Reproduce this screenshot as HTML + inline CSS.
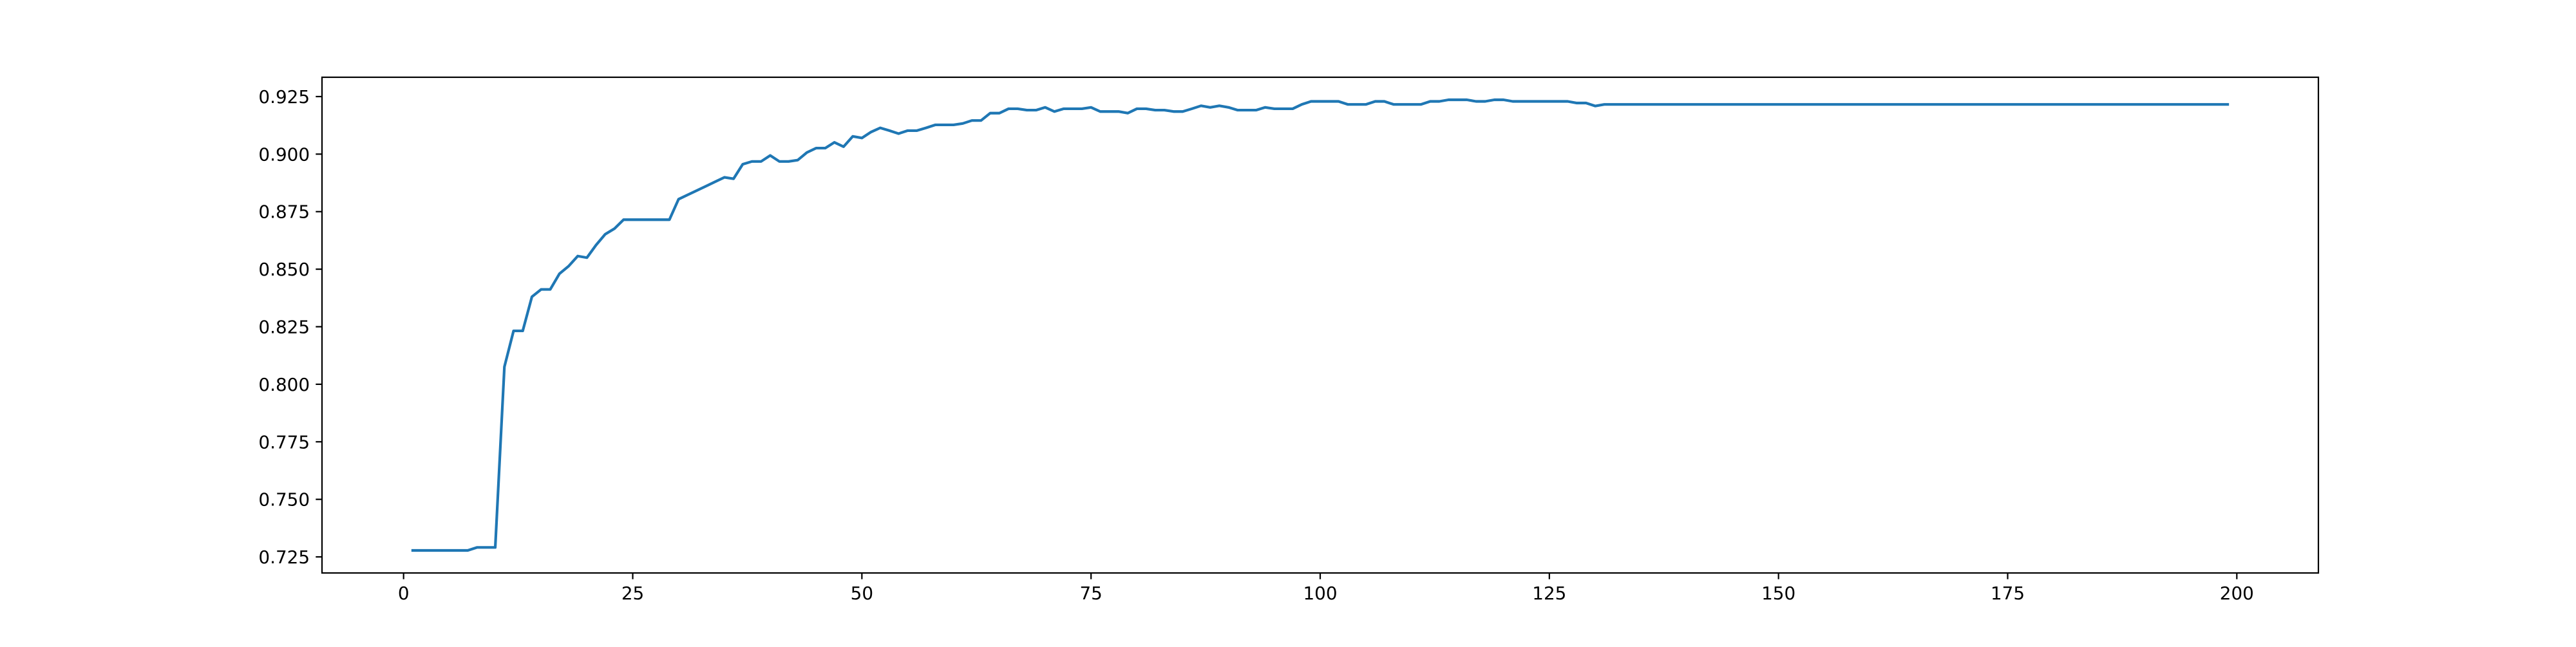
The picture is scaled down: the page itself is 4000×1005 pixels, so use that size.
<!DOCTYPE html>
<html><head><meta charset="utf-8"><style>
html,body{margin:0;padding:0;background:#fff;}
svg text{font-family:"DejaVu Sans","Liberation Sans",sans-serif;font-size:27.8px;fill:#000;}
</style></head><body>
<svg id="chart" width="4000" height="1000" viewBox="0 0 4000 1000" xmlns="http://www.w3.org/2000/svg">
<rect width="4000" height="1000" fill="#fff"/>
<g id="plot"></g>
</svg>
<script>
const xValues = [];
for (let i = 1; i <= 199; i++) xValues.push(i);
const seriesHead = [0.7278,0.7278,0.7278,0.7278,0.7278,0.7278,0.7278,0.7291,0.7291,0.7291,
0.8076,0.8232,0.8232,0.838,0.8412,0.8412,0.848,0.8513,0.8557,0.855,
0.8605,0.8652,0.8676,0.8715,0.8715,0.8715,0.8715,0.8715,0.8715,0.8804,
0.8823,0.8842,0.8861,0.888,0.8899,0.8893,0.8956,0.8968,0.8968,0.8994,
0.8968,0.8968,0.8974,0.9007,0.9026,0.9026,0.9051,0.9032,0.9077,0.907,
0.9096,0.9114,0.9102,0.9089,0.9102,0.9102,0.9114,0.9127,0.9127,0.9127,
0.9133,0.9146,0.9146,0.9178,0.9178,0.9197,0.9197,0.9191,0.9191,0.9203,
0.9185,0.9197,0.9197,0.9197,0.9203,0.9185,0.9185,0.9185,0.9178,0.9197,
0.9197,0.9191,0.9191,0.9185,0.9185,0.9197,0.921,0.9203,0.921,0.9203,
0.9191,0.9191,0.9191,0.9203,0.9197,0.9197,0.9197,0.9216,0.9229,0.9229,
0.9229,0.9229,0.9216,0.9216,0.9216,0.9229,0.9229,0.9216,0.9216,0.9216,
0.9216,0.9229,0.9229,0.9236,0.9236,0.9236,0.9229,0.9229,0.9236,0.9236,
0.9229,0.9229,0.9229,0.9229,0.9229,0.9229,0.9229,0.9222,0.9222,0.9209];
const seriesTailValue = 0.9216;
const seriesValues = xValues.map((x, i) => i < seriesHead.length ? seriesHead[i] : seriesTailValue);
const xTicks = [0, 25, 50, 75, 100, 125, 150, 175, 200];
const yTicks = [0.725, 0.75, 0.775, 0.8, 0.825, 0.85, 0.875, 0.9, 0.925];
const yTickLabels = ["0.725","0.750","0.775","0.800","0.825","0.850","0.875","0.900","0.925"];

const L = 500, R = 3600, T = 120, B = 890;
const xmin = Math.min(...xValues), xmax = Math.max(...xValues);
const xpad = (xmax - xmin) * 0.05;
const ymin0 = Math.min(...seriesValues), ymax0 = Math.max(...seriesValues);
const ypad = (ymax0 - ymin0) * 0.05;
const x0 = xmin - xpad, x1 = xmax + xpad, y0 = ymin0 - ypad, y1 = ymax0 + ypad;
function sx(v){ return L + (v - x0) / (x1 - x0) * (R - L); }
function sy(v){ return B - (v - y0) / (y1 - y0) * (B - T); }

const NS = "http://www.w3.org/2000/svg";
const g = document.getElementById('plot');
function mk(tag, attrs){ const e = document.createElementNS(NS, tag); for (const k in attrs) e.setAttribute(k, attrs[k]); return e; }

const line = mk('polyline', {points: xValues.map((x,i)=>sx(x).toFixed(2)+','+sy(seriesValues[i]).toFixed(2)).join(' '), fill:'none', stroke:'#1f77b4', 'stroke-width':'4.17', 'stroke-linejoin':'round', 'stroke-linecap':'square'});


g.appendChild(line);

const frame = mk('rect', {x:L, y:T, width:R-L, height:B-T, fill:'none', stroke:'#000', 'stroke-width':'2.2'});


g.appendChild(frame);

xTicks.forEach(t => {
  const x = sx(t);
  const tk = mk('line', {x1:x, x2:x, y1:B, y2:B+9.7, stroke:'#000', 'stroke-width':'2.2'});
  
  
  g.appendChild(tk);
  const tx = mk('text', {x:x, y:B+41, 'text-anchor':'middle'});
  tx.textContent = String(t);
  
  
  g.appendChild(tx);
});
yTicks.forEach((t, i) => {
  const y = sy(t);
  const tk = mk('line', {x1:L-9.7, x2:L, y1:y, y2:y, stroke:'#000', 'stroke-width':'2.2'});
  
  
  g.appendChild(tk);
  const tx = mk('text', {x:L-19, y:y+10, 'text-anchor':'end'});
  tx.textContent = yTickLabels[i];
  
  
  g.appendChild(tx);
});
</script>
</body></html>
